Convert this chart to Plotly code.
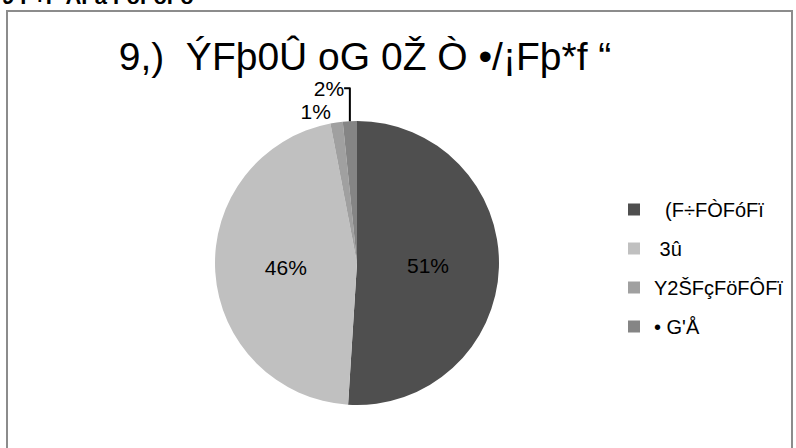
import plotly.graph_objects as go

# 数据
labels = ["  (F÷FÒFóFï", " 3û", "Y2ŠFçFöFÔFï", "• G'Å"]
values = [51, 46, 1.4, 1.6]
colors = ["#4f4f4f", "#c0c0c0", "#a0a0a0", "#858585"]
text_pos = ["inside", "inside", "outside", "outside"]

title_text = "9,)  ÝFþ0Û oG 0Ž Ò •/¡Fþ*f “"
header_text = "<b>9 F÷F ÁFá FöFóFõ</b>"

FONT = "Liberation Sans, Arial, sans-serif"
W, H = 796, 448

fig = go.Figure()

# ---- 饼图 ----
fig.add_trace(go.Pie(
    labels=labels,
    values=values,
    sort=False,
    direction="clockwise",
    rotation=0,
    marker=dict(colors=colors, line=dict(width=0)),
    texttemplate="%{percent:.0%}",
    textposition=text_pos,
    insidetextorientation="horizontal",
    textfont=dict(family=FONT, size=21, color="black"),
    showlegend=False,
    domain=dict(x=[215 / W, 499 / W], y=[1 - 405 / H, 1 - 121 / H]),
))

# ---- 图例（占位散点，便于控制间距） ----
for i, (lab, col) in enumerate(zip(labels, colors)):
    fig.add_trace(go.Scatter(
        x=[None], y=[None],
        mode="markers",
        name=lab,
        legendgroup=f"g{i}",
        marker=dict(symbol="square", size=12, color=col),
    ))

# ---- 外框 ----
fig.add_shape(type="rect", xref="paper", yref="paper",
              x0=7 / W, x1=792 / W, y0=-0.2, y1=1 - 11 / H,
              line=dict(color="#8c8c8c", width=2), fillcolor="rgba(0,0,0,0)")

# 顶部被裁掉的文字
fig.add_annotation(text=header_text, xref="paper", yref="paper",
                   x=0, y=1 + 3 / H, xanchor="left", yanchor="middle",
                   showarrow=False,
                   font=dict(family=FONT, size=22, color="black"))

fig.update_xaxes(visible=False)
fig.update_yaxes(visible=False)

fig.update_layout(
    width=W, height=H,
    margin=dict(l=0, r=0, t=0, b=0, autoexpand=False),
    paper_bgcolor="white",
    plot_bgcolor="white",
    font=dict(family=FONT, color="black"),
    title=dict(text=title_text, x=365 / W, xanchor="center",
               y=1 - 56 / H, yanchor="middle",
               font=dict(family=FONT, size=39, color="black")),
    legend=dict(x=614 / W, xanchor="left", y=1 - 190 / H, yanchor="top",
                font=dict(family=FONT, size=20, color="black"),
                tracegroupgap=10, bgcolor="rgba(0,0,0,0)"),
)

# 去掉页面默认边距，使图表贴齐窗口左上角
fig.write_html("out.html", config={"displayModeBar": False},
               post_script="document.body.style.margin='0px';")
